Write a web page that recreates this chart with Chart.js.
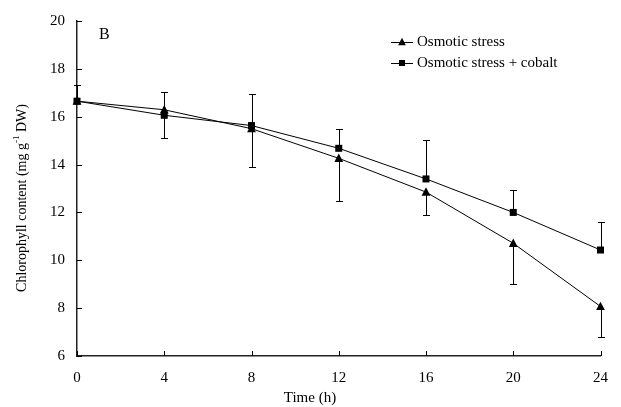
<!DOCTYPE html>
<html><head><meta charset="utf-8">
<script src="https://cdn.jsdelivr.net/npm/chart.js@4.4.0/dist/chart.umd.min.js"></script>
<style>html,body{margin:0;padding:0;background:#fff}#wrap{width:621px;height:407px;position:relative}</style>
</head><body><div id="wrap"><canvas id="c" width="621" height="407"></canvas></div>
<script>
const times = [0, 4, 8, 12, 16, 20, 24];
const osmotic = [16.65, 16.29, 15.5, 14.26, 12.85, 10.71, 8.07];
const osmoticErrLow = [0, 1.18, 1.59, 1.79, 0.96, 1.71, 1.26];
const cobalt = [16.65, 16.06, 15.63, 14.68, 13.40, 12.0, 10.43];
const cobaltErrHigh = [0.68, 0.99, 1.31, 0.79, 1.64, 0.93, 1.18];
const xTicks = [0, 4, 8, 12, 16, 20, 24];
const yTicks = [6, 8, 10, 12, 14, 16, 18, 20];
const FONT = '"Liberation Serif", "Times New Roman", serif';

function triangle(ctx, x, y, s) {
  ctx.beginPath();
  ctx.moveTo(x, y - s * 0.6);
  ctx.lineTo(x + s * 0.55, y + s * 0.45);
  ctx.lineTo(x - s * 0.55, y + s * 0.45);
  ctx.closePath(); ctx.fill();
}
function square(ctx, x, y, s) { ctx.fillRect(x - s / 2, y - s / 2, s, s); }

const overlay = {
  id: 'overlay',
  afterDatasetsDraw(chart) {
    const ctx = chart.ctx, xs = chart.scales.x, ys = chart.scales.y;
    const a = chart.chartArea;
    ctx.save();
    ctx.strokeStyle = '#000'; ctx.fillStyle = '#000'; ctx.lineWidth = 1;
    // inward ticks
    ctx.beginPath();
    yTicks.forEach(v => { const y = Math.round(ys.getPixelForValue(v)) + 0.5; ctx.moveTo(a.left, y); ctx.lineTo(a.left + 5, y); });
    xTicks.forEach(v => { const x = Math.round(xs.getPixelForValue(v)) + 0.5; ctx.moveTo(x, a.bottom); ctx.lineTo(x, a.bottom - 5); });
    ctx.stroke();
    // error bars
    ctx.beginPath();
    times.forEach((t, i) => {
      const x = Math.round(xs.getPixelForValue(t)) + 0.5;
      if (cobaltErrHigh[i] > 0) {
        const y0 = ys.getPixelForValue(cobalt[i]), y1 = Math.round(ys.getPixelForValue(cobalt[i] + cobaltErrHigh[i])) + 0.5;
        ctx.moveTo(x, y0); ctx.lineTo(x, y1); ctx.moveTo(x - 3.5, y1); ctx.lineTo(x + 3.5, y1);
      }
      if (osmoticErrLow[i] > 0) {
        const y0 = ys.getPixelForValue(osmotic[i]), y1 = Math.round(ys.getPixelForValue(osmotic[i] - osmoticErrLow[i])) + 0.5;
        ctx.moveTo(x, y0); ctx.lineTo(x, y1); ctx.moveTo(x - 3.5, y1); ctx.lineTo(x + 3.5, y1);
      }
    });
    ctx.stroke();
    // markers
    times.forEach((t, i) => {
      const x = xs.getPixelForValue(t);
      triangle(ctx, x, ys.getPixelForValue(osmotic[i]), 8);
      square(ctx, x, ys.getPixelForValue(cobalt[i]), 7);
    });
    // panel label
    ctx.font = '16px ' + FONT; ctx.textBaseline = 'middle'; ctx.textAlign = 'left';
    ctx.fillText('B', 99, 35);
    // legend
    ctx.font = '15px ' + FONT;
    const rows = [['Osmotic stress', triangle, 8], ['Osmotic stress + cobalt', square, 7]];
    rows.forEach((r, k) => {
      const y = 42 + k * 21;
      ctx.beginPath(); ctx.moveTo(391, y + 0.5); ctx.lineTo(413, y + 0.5); ctx.stroke();
      r[1](ctx, 402, y, r[2] - 1);
      ctx.fillText(r[0], 417, y);
    });
    // x title (centered on canvas as in the reference)
    ctx.font = '15px ' + FONT; ctx.textAlign = 'center';
    ctx.fillText('Time (h)', 310, 398);
    // y title with superscript
    ctx.translate(22, 198); ctx.rotate(-Math.PI / 2);
    const p1 = 'Chlorophyll content (mg g', sup = '-1', p2 = ' DW)';
    ctx.font = '14px ' + FONT; const w1 = ctx.measureText(p1).width, w3 = ctx.measureText(p2).width;
    ctx.font = '9px ' + FONT; const w2 = ctx.measureText(sup).width;
    let x0 = -(w1 + w2 + w3) / 2;
    ctx.textAlign = 'left';
    ctx.font = '14px ' + FONT; ctx.fillText(p1, x0, 0);
    ctx.font = '9px ' + FONT; ctx.fillText(sup, x0 + w1, -5);
    ctx.font = '14px ' + FONT; ctx.fillText(p2, x0 + w1 + w2, 0);
    ctx.restore();
  }
};

new Chart(document.getElementById('c'), {
  type: 'line',
  data: {
    datasets: [
      { label: 'Osmotic stress', data: times.map((t, i) => ({ x: t, y: osmotic[i] })), borderColor: '#000', borderWidth: 1, pointRadius: 0, fill: false, tension: 0 },
      { label: 'Osmotic stress + cobalt', data: times.map((t, i) => ({ x: t, y: cobalt[i] })), borderColor: '#000', borderWidth: 1, pointRadius: 0, fill: false, tension: 0 }
    ]
  },
  options: {
    responsive: false, animation: false, devicePixelRatio: 1,
    layout: { padding: { left: 0, top: 17, right: 17, bottom: 0 } },
    plugins: { legend: { display: false }, tooltip: { enabled: false } },
    scales: {
      x: {
        type: 'linear', min: 0, max: 24,
        afterBuildTicks: s => { s.ticks = xTicks.map(v => ({ value: v })); },
        afterFit: s => { s.height = 51; },
        grid: { display: false, drawTicks: false },
        border: { display: true, color: '#222', width: 1.5 },
        ticks: { color: '#000', font: { family: FONT, size: 15 }, padding: 13, maxRotation: 0 }
      },
      y: {
        min: 6, max: 20,
        afterBuildTicks: s => { s.ticks = yTicks.map(v => ({ value: v })); },
        afterFit: s => { s.width = 77; },
        grid: { display: false, drawTicks: false },
        border: { display: true, color: '#222', width: 1.5 },
        ticks: { color: '#000', font: { family: FONT, size: 15 }, padding: 12 }
      }
    }
  },
  plugins: [overlay]
});
</script></body></html>
